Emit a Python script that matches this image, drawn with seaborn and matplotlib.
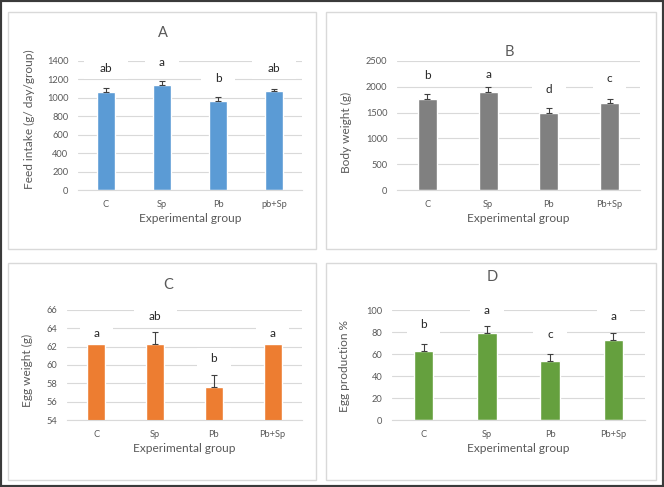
import numpy as np
import matplotlib
matplotlib.use("Agg")
import matplotlib.pyplot as plt
import seaborn as sns
from matplotlib.patches import Rectangle
from matplotlib.offsetbox import DrawingArea, AnnotationBbox
from matplotlib.text import Text

# data
groups_a = ["C", "Sp", "Pb", "pb+Sp"]
groups = ["C", "Sp", "Pb", "Pb+Sp"]

feed = [1064, 1136, 968, 1075]
feed_err = [43, 43, 43, 21]
feed_letters = ["ab", "a", "b", "ab"]
feed_letter_y = [1314, 1386, 1214, 1314]

body = [1763, 1891, 1487, 1680]
body_err = [100, 105, 100, 83]
body_letters = ["b", "a", "d", "c"]
body_letter_y = [2224, 2245, 1955, 2160]

egg_w = [62.3, 62.3, 57.6, 62.3]
egg_w_err = [0, 1.3, 1.3, 0]
egg_w_letters = ["a", "ab", "b", "a"]
egg_w_letter_y = [63.45, 65.3, 60.7, 63.45]

egg_p = [62.7, 79.4, 53.6, 72.7]
egg_p_err = [6, 6, 6, 6]
egg_p_letters = ["b", "a", "c", "a"]
egg_p_letter_y = [86.4, 100, 77.9, 94]

sns.set_theme(style="white")
plt.rcParams["font.family"] = ["Lato", "DejaVu Sans"]

W, H = 664, 487
GRAY = "#595959"
LINE = "#d9d9d9"

fig = plt.figure(figsize=(W / 100, H / 100), dpi=100)
fig.patch.set_facecolor("white")


def fbox(x0, y0, x1, y1):
    return [x0 / W, 1 - y1 / H, (x1 - x0) / W, (y1 - y0) / H]


# outer frame and the four chart boxes
fig.add_artist(Rectangle((0, 0), 1, 1, transform=fig.transFigure, fc="white",
                         ec="#3a3a3a", lw=3, zorder=-2))
for x0, y0, x1, y1 in [(8, 12, 316, 249), (326, 12, 656, 249),
                       (8, 263, 316, 480), (326, 263, 656, 480)]:
    b = fbox(x0, y0, x1, y1)
    fig.add_artist(Rectangle((b[0], b[1]), b[2], b[3], transform=fig.transFigure,
                             fc="white", ec=LINE, lw=1, zorder=-1))


def letter(ax, x, y, s):
    w = 17 + 7 * len(s)
    h = 15
    da = DrawingArea(w, h, w / 2, h / 2)
    da.add_artist(Rectangle((-w / 2, -h / 2), w, h, fc="white", ec="none"))
    da.add_artist(Text(0, 0, s, ha="center", va="center", fontsize=8.5, color="#262626"))
    ab = AnnotationBbox(da, (x, y), frameon=False, pad=0, box_alignment=(0.5, 0.5))
    ab.set_zorder(0.8)
    ax.add_artist(ab)


def panel(rect, cats, vals, errs, letters, letter_y, color, ylim, step, ylabel,
          ylab_xy, title, title_xy):
    ax = fig.add_axes(fbox(*rect))
    ax.set_facecolor("none")
    sns.barplot(x=cats, y=vals, color=color, width=0.31, errorbar=None,
                saturation=1, ax=ax)
    idx = [i for i, e in enumerate(errs) if e > 0]
    ax.errorbar(idx, [vals[i] for i in idx],
                yerr=[[0] * len(idx), [errs[i] for i in idx]],
                fmt="none", ecolor="#404040", elinewidth=0.8, capsize=2.5,
                capthick=0.8, zorder=2)
    ax.set_ylim(*ylim)
    ax.set_xlim(-0.5, 3.5)
    ax.set_yticks(np.arange(ylim[0], ylim[1] + step / 2, step))
    ax.yaxis.grid(True, color=LINE, lw=0.8)
    ax.set_axisbelow(True)
    for side in ["left", "top", "right"]:
        ax.spines[side].set_visible(False)
    ax.spines["bottom"].set_color(LINE)
    ax.spines["bottom"].set_linewidth(0.8)
    ax.tick_params(length=0, labelsize=6.7, labelcolor=GRAY, pad=7)
    ax.set_xlabel("Experimental group", fontsize=8.6, color=GRAY, labelpad=3)
    ax.set_ylabel(ylabel, fontsize=8.6, color=GRAY)
    ax.yaxis.set_label_coords(*ylab_xy)
    for i, (s, y) in enumerate(zip(letters, letter_y)):
        letter(ax, i, y, s)
    fig.text(title_xy[0] / W, 1 - title_xy[1] / H, title, fontsize=10.5,
             color=GRAY, ha="center", va="center")
    return ax


panel((78, 61, 302, 190), groups_a, feed, feed_err, feed_letters, feed_letter_y,
      "#5B9BD5", (0, 1400), 200, "Feed intake (g/ day/group)", (-0.19, 0.55),
      "A", (163, 33))
panel((397, 61, 640, 190), groups, body, body_err, body_letters, body_letter_y,
      "#808080", (0, 2500), 500, "Body weight (g)", (-0.185, 0.45),
      "B", (509, 52))
panel((67, 310, 302, 420), groups, egg_w, egg_w_err, egg_w_letters, egg_w_letter_y,
      "#ED7D31", (54, 66), 2, "Egg weight (g)", (-0.145, 0.45),
      "C", (168, 285))
panel((392, 310, 645, 420), groups, egg_p, egg_p_err, egg_p_letters, egg_p_letter_y,
      "#65A03E", (0, 100), 20, "Egg production %", (-0.166, 0.49),
      "D", (492, 277))

fig.savefig("out.png", dpi=100)
